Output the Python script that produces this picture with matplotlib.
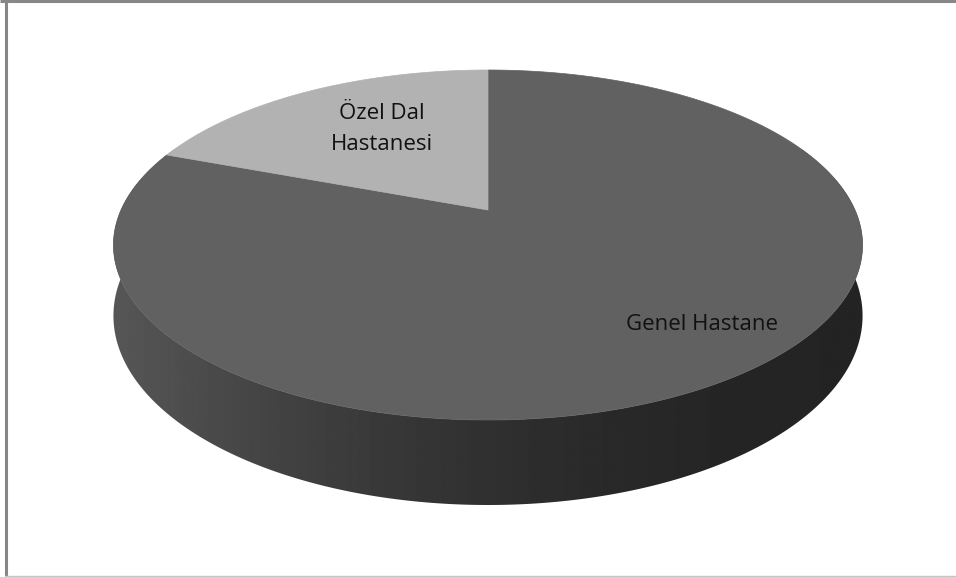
import numpy as np
import matplotlib.pyplot as plt
from matplotlib.patches import Polygon

labels = ['Genel Hastane', 'Özel Dal\nHastanesi']
values = [80.7, 19.3]
top_colors = ['#616161', '#b2b2b2']

W, H = 956, 577
cx, cy = 488, 210        # projected centre of the top face
rx, ry = 367, 168        # disc radii before perspective
depth = 68               # thickness of the disc
persp = 0.2              # perspective strength


def project(theta, z=0.0):
    # theta clockwise from the far side, in radians
    u = np.sin(theta)
    v = -np.cos(theta)
    d = 1 - persp * v
    return cx + rx * u / d, cy + (ry * v + depth * z) / d


fig = plt.figure(figsize=(W / 100, H / 100), dpi=100)
ax = fig.add_axes([0, 0, 1, 1])
ax.set_xlim(0, W)
ax.set_ylim(H, 0)
ax.axis('off')

# side wall: outline of top rim front arc + bottom rim, filled with a gradient
t = np.linspace(np.pi / 2 - 0.4, 3 * np.pi / 2 + 0.4, 400)
x0, y0 = project(t, 0)
x1, y1 = project(t, 1)
side = np.vstack([np.column_stack([x0, y0]),
                  np.column_stack([x1, y1])[::-1]])
side_patch = Polygon(side, closed=True, facecolor='none', edgecolor='none')
ax.add_patch(side_patch)

gx = np.linspace(0, W, 600)
f = np.clip((gx - 113) / 750, 0, 1)
g = 0.14 + 0.20 * (1 - f) ** 2
grad = np.tile(g, (2, 1))
im = ax.imshow(grad, cmap='gray', vmin=0, vmax=1, extent=[0, W, H, 0],
               aspect='auto', interpolation='bilinear')
im.set_clip_path(side_patch)

# top face slices, starting at 12 o'clock and going clockwise
fracs = np.array(values) / sum(values)
start = 0.0
for frac, col in zip(fracs, top_colors):
    a = np.linspace(start, start + frac * 2 * np.pi, 300)
    px, py = project(a, 0)
    pts = [(cx, cy)] + list(zip(px, py))
    ax.add_patch(Polygon(pts, closed=True, facecolor=col, edgecolor=col,
                         linewidth=0.5))
    start += frac * 2 * np.pi

font = ['Open Sans', 'DejaVu Sans']
ax.text(702, 325, labels[0], ha='center', va='center', fontsize=16,
        family=font, color='#111111')
ax.text(382, 129, labels[1], ha='center', va='center', fontsize=16,
        family=font, color='#111111', linespacing=1.6)

# chart frame
ax.plot([0, W], [1, 1], color='#878787', lw=2.2, solid_capstyle='butt')
ax.plot([6.5, 6.5], [0, H - 1], color='#878787', lw=2.2, solid_capstyle='butt')
ax.plot([6, W], [576, 576], color='#c4c4c4', lw=1.0)

fig.savefig('out.png', dpi=100)
